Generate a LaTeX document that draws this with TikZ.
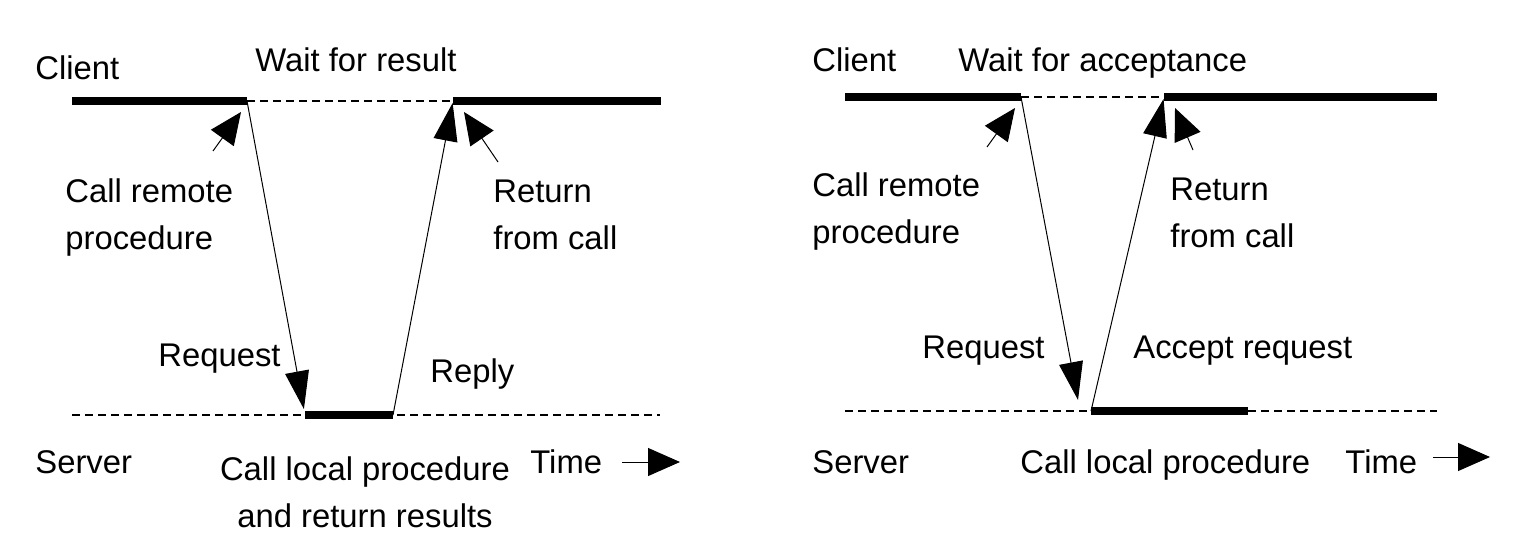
\documentclass[tikz,border=0pt]{standalone}
\usepackage{fontspec}
\setmainfont{Liberation Sans}
\usetikzlibrary{arrows.meta}

\begin{document}
\begin{tikzpicture}[
  x=0.5pt, y=-0.5pt,
  font=\fontsize{16.4}{23.5}\selectfont,
  busy/.style={line width=4pt},
  idle/.style={line width=0.7pt, dash pattern=on 4pt off 2.5pt},
  msg/.style={-{Triangle[length=19pt,width=12pt]}, line width=0.5pt},
  pointer/.style={-{Triangle[length=16pt,width=14pt]}, line width=0.5pt},
  lbl/.style={anchor=base west, inner sep=0pt, align=left}
]
\useasboundingbox (0,0) rectangle (1518,550);

% left: waiting for the result
\coordinate (lcA) at (72,101);
\coordinate (lcB) at (247,101);
\coordinate (lcC) at (453,101);
\coordinate (lcD) at (661,101);
\coordinate (lsA) at (72,415);
\coordinate (lsB) at (305,415);
\coordinate (lsC) at (393,415);
\coordinate (lsD) at (660,415);

\node[lbl] (clientL) at (35,80) {Client};
\node[lbl] (waitL) at (255,72) {Wait for result};
\node[lbl] (callL) at (65,250) {Call remote\\procedure};
\node[lbl] (returnL) at (493,250) {Return\\from call};
\node[lbl] (requestL) at (158,366) {Request};
\node[lbl] (replyL) at (430,382) {Reply};
\node[lbl] (serverL) at (35,473) {Server};
\node[anchor=base, inner sep=0pt, align=center] (localL) at (365,527) {Call local procedure\\and return results};
\node[lbl] (timeL) at (530,473) {Time};

\draw[idle] (lcB) -- (lcC);
\draw[idle] (lsA) -- (lsD);
\draw[busy] (lcA) -- (lcB);
\draw[busy] (lcC) -- (lcD);
\draw[busy] (lsB) -- (lsC);

\draw[msg, shorten >=3pt] (lcB) -- (lsB);
\draw[msg, shorten >=1pt] (lsC) -- (lcC);

\coordinate (callLtail) at (213,151);
\coordinate (callLtip) at (241,112);
\coordinate (returnLtail) at (498,162);
\coordinate (returnLtip) at (464,112);
\coordinate (timeLtip) at (680,462);
\draw[pointer] (callLtail) -- (callLtip);
\draw[pointer] (returnLtail) -- (returnLtip);
\draw[pointer] (622,462) -- (timeLtip);

% right: waiting for acceptance
\coordinate (rcA) at (845,97);
\coordinate (rcB) at (1021,97);
\coordinate (rcC) at (1164,97);
\coordinate (rcD) at (1437,97);
\coordinate (rsA) at (845,411);
\coordinate (rsB) at (1091,411);
\coordinate (rsC) at (1248,411);
\coordinate (rsD) at (1437,411);
\coordinate (reqRtip) at (1078,400);

\node[lbl] (clientR) at (812,72) {Client};
\node[lbl] (waitR) at (958,72) {Wait for acceptance};
\node[lbl] (callR) at (812,244) {Call remote\\procedure};
\node[lbl] (returnR) at (1170,248) {Return\\from call};
\node[lbl] (requestR) at (922,358) {Request};
\node[lbl] (acceptR) at (1133,358) {Accept request};
\node[lbl] (serverR) at (812,473) {Server};
\node[lbl] (localR) at (1020,473) {Call local procedure};
\node[lbl] (timeR) at (1345,473) {Time};

\draw[idle] (rcB) -- (rcC);
\draw[idle] (rsA) -- (rsD);
\draw[busy] (rcA) -- (rcB);
\draw[busy] (rcC) -- (rcD);
\draw[busy] (rsB) -- (rsC);

\draw[msg] (rcB) -- (reqRtip);
\draw[msg, shorten >=1pt] (rsB) -- (rcC);

\coordinate (callRtail) at (987,147);
\coordinate (callRtip) at (1015,108);
\coordinate (returnRtail) at (1193,150);
\coordinate (returnRtip) at (1175,108);
\coordinate (timeRtip) at (1490,457);
\draw[pointer] (callRtail) -- (callRtip);
\draw[pointer] (returnRtail) -- (returnRtip);
\draw[pointer] (1433,457) -- (timeRtip);
\end{tikzpicture}
\end{document}
